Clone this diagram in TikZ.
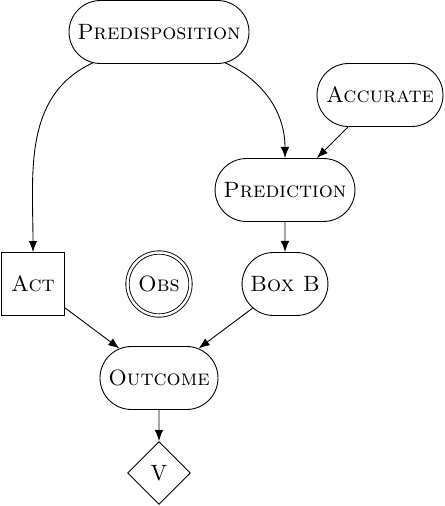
\documentclass[tikz,border=0pt]{standalone}
\usetikzlibrary{shapes.misc,shapes.geometric,arrows.meta}
\begin{document}
\begin{tikzpicture}[x=0.4517pt,y=-0.4517pt,
  rnode/.style={draw,rounded rectangle,minimum height=28.45pt,inner sep=0pt},
  sqnode/.style={draw,rectangle,minimum size=28.45pt,inner sep=0pt},
  obsnode/.style={draw,circle,double,double distance=1.1pt,minimum size=28.45pt,inner sep=0pt},
  dnode/.style={draw,diamond,minimum size=28.45pt,inner sep=0pt},
  arr/.style={-{Latex[length=5pt,width=3.8pt]}}]
\useasboundingbox (0,0) rectangle (444,506);
\node[rnode,minimum width=81.3pt] (P) at (159,32) {\textsc{Predisposition}};
\node[rnode,minimum width=56.9pt] (Acc) at (380,95) {\textsc{Accurate}};
\node[rnode,minimum width=63.2pt] (Pred) at (285,190) {\textsc{Prediction}};
\node[sqnode] (Act) at (33,284) {\textsc{Act}};
\node[obsnode] (Obs) at (159,284) {\textsc{Obs}};
\node[rnode,minimum width=38.8pt] (B) at (285,284) {\textsc{Box B}};
\node[rnode,minimum width=53.3pt] (Out) at (159,378) {\textsc{Outcome}};
\node[dnode] (V) at (159,473) {V};
\draw[arr] (P) to[out=205,in=90] (Act);
\draw[arr] (P) to[out=-25,in=90] (Pred);
\draw[arr] (Acc) -- (Pred);
\draw[arr] (Pred) -- (B);
\draw[arr] (Act) -- (Out);
\draw[arr] (B) -- (Out);
\draw[arr] (Out) -- (V);
\end{tikzpicture}
\end{document}
